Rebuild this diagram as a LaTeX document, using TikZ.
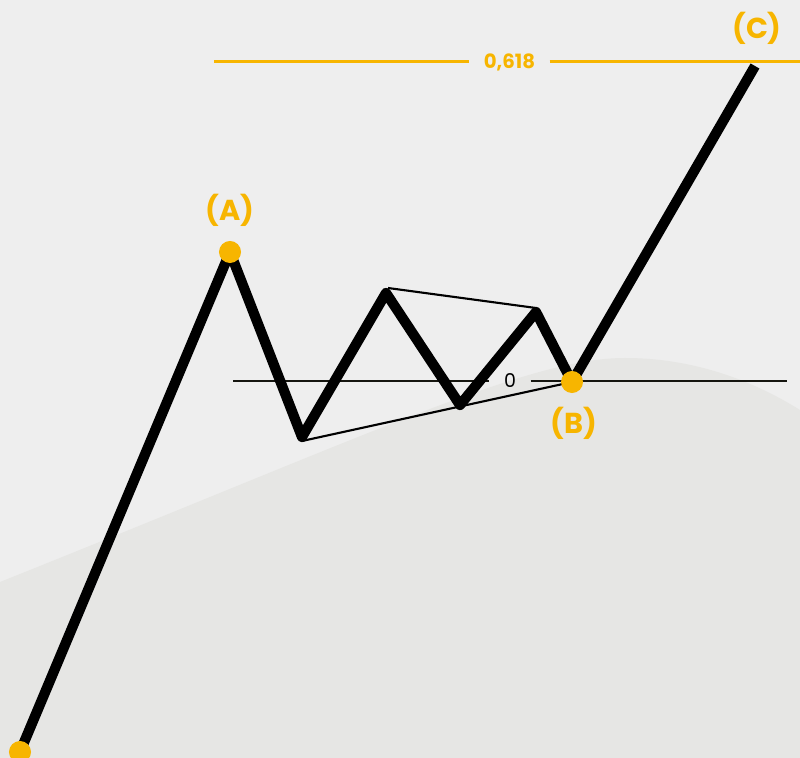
\documentclass[tikz,border=0pt]{standalone}
\usepackage{fontspec}
\setmainfont{Poppins}
\usepackage{xcolor}
\usetikzlibrary{calc}
\definecolor{bgGray}{HTML}{EEEEEE}
\definecolor{hillGray}{HTML}{E6E6E4}
\definecolor{fibOrange}{HTML}{F7B500}
\definecolor{levelBlack}{HTML}{15150F}
\tikzset{
  wave/.style     = {line width=2.9pt, line join=round, black},
  trend/.style    = {line width=0.6pt, black},
  level/.style    = {line width=0.85pt, levelBlack},
  fiblevel/.style = {line width=0.85pt, fibOrange},
  pivot/.style    = {circle, fill=fibOrange, inner sep=0pt, minimum size=0.22cm},
  wlabel/.style   = {text=fibOrange, font=\fontsize{8.2}{9}\selectfont\bfseries},
  lvlabel/.style  = {font=\fontsize{5.4}{6}\selectfont, inner sep=0pt, minimum height=0.1cm},
}

\begin{document}
\begin{tikzpicture}[x=0.01cm, y=-0.01cm]

    %% Canvas and background hill
    \fill[bgGray] (0,0) rectangle (800,758);
    \useasboundingbox (0,0) rectangle (800,758);
    \clip (0,0) rectangle (800,758);
    \fill[hillGray] (0,582) .. controls (380,430) and (530,358) .. (625,358)
         .. controls (700,358) and (760,385) .. (800,410) -- (800,758) -- (0,758) -- cycle;

    %% Wave points
    \coordinate (w0) at (20,752);
    \coordinate (wA) at (230,252);
    \coordinate (w1) at (302,437);
    \coordinate (w2) at (386,293);
    \coordinate (w3) at (460,405);
    \coordinate (w4) at (536,312);
    \coordinate (wB) at (572,382);
    \coordinate (wC) at (755,66);

    %% Level lines
    \node[lvlabel, text=fibOrange, font=\fontsize{5.6}{6}\selectfont\bfseries,
          minimum width=0.79cm] (fib) at (509.5,62) {0,618};
    \coordinate (fibL) at (214,62);
    \coordinate (fibR) at (800,62);
    \draw[fiblevel] (fibL) -- (fib.west);
    \draw[fiblevel] (fib.east) -- (fibR);

    \node[lvlabel, minimum width=0.4cm] (zero) at (510,381) {0};
    \coordinate (zeroL) at (233,381);
    \coordinate (zeroR) at (787,381);
    \draw[level] (zeroL) -- (zero.west);
    \draw[level] (zero.east) -- (zeroR);

    %% Triangle trend lines
    \draw[trend] (388,288) -- (536,308);
    \draw[trend] (302,441) -- (wB);

    %% Wave
    \draw[wave] (w0) -- (wA) -- (w1) -- (w2) -- (w3) -- (w4) -- (wB) -- (wC);

    %% Pivots and labels
    \node[pivot] (p0) at (w0) {};
    \node[pivot] (pA) at (wA) {};
    \node[pivot] (pB) at (wB) {};
    \node[wlabel] (lA) at (230,210) {(A)};
    \node[wlabel] (lB) at (574,423) {(B)};
    \node[wlabel] (lC) at (757,28) {(C)};

  \end{tikzpicture}
\end{document}
